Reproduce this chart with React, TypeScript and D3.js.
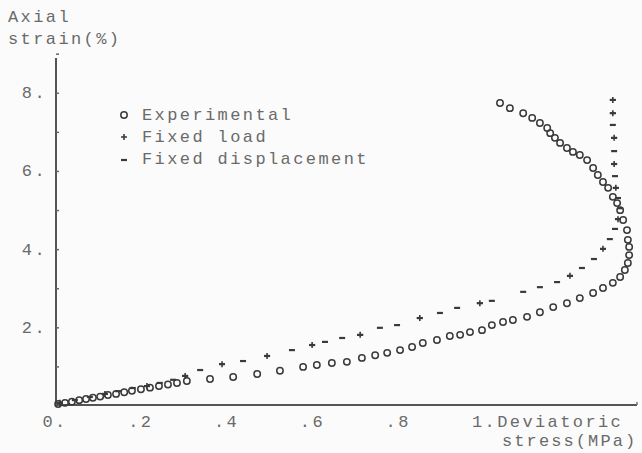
import React from "react";
import * as d3 from "d3";

// Experimental (deviatoric stress MPa, axial strain %)
const expStress = [0.005, 0.021, 0.037, 0.054, 0.07, 0.086, 0.103, 0.121, 0.14, 0.159, 0.177, 0.198, 0.219, 0.24, 0.261, 0.282, 0.305, 0.359, 0.413, 0.469, 0.522, 0.576, 0.608, 0.643, 0.678, 0.713, 0.744, 0.772, 0.802, 0.83, 0.855, 0.888, 0.918, 0.942, 0.965, 0.993, 1.016, 1.042, 1.065, 1.098, 1.128, 1.159, 1.191, 1.221, 1.252, 1.275, 1.298, 1.315, 1.326, 1.333, 1.336, 1.336, 1.333, 1.331, 1.322, 1.315, 1.308, 1.298, 1.287, 1.275, 1.263, 1.252, 1.238, 1.221, 1.205, 1.191, 1.175, 1.163, 1.152, 1.145, 1.128, 1.11, 1.089, 1.058, 1.035];
const expStrain = [0.05, 0.08, 0.11, 0.15, 0.18, 0.21, 0.24, 0.28, 0.31, 0.35, 0.39, 0.43, 0.47, 0.51, 0.55, 0.59, 0.64, 0.69, 0.74, 0.82, 0.9, 1.0, 1.05, 1.1, 1.13, 1.23, 1.3, 1.36, 1.43, 1.51, 1.61, 1.69, 1.79, 1.82, 1.89, 1.94, 2.07, 2.15, 2.2, 2.28, 2.4, 2.53, 2.63, 2.76, 2.89, 3.02, 3.15, 3.3, 3.48, 3.66, 3.86, 4.07, 4.25, 4.5, 4.76, 5.01, 5.19, 5.35, 5.58, 5.73, 5.91, 6.09, 6.29, 6.42, 6.5, 6.6, 6.73, 6.86, 6.98, 7.11, 7.24, 7.37, 7.49, 7.62, 7.75];

// Fixed displacement
const dispStress = [0.009, 0.044, 0.079, 0.114, 0.145, 0.179, 0.212, 0.242, 0.273, 0.301, 0.336, 0.387, 0.436, 0.492, 0.55, 0.597, 0.627, 0.667, 0.709, 0.755, 0.795, 0.848, 0.895, 0.935, 0.988, 1.016, 1.089, 1.128, 1.168, 1.198, 1.226, 1.254, 1.275, 1.291, 1.303, 1.31, 1.315, 1.31, 1.305, 1.303, 1.301, 1.301, 1.301, 1.298, 1.298, 1.298];
const dispStrain = [0.08, 0.15, 0.23, 0.31, 0.38, 0.46, 0.51, 0.59, 0.67, 0.77, 0.92, 1.07, 1.15, 1.28, 1.43, 1.56, 1.64, 1.74, 1.82, 2.0, 2.07, 2.25, 2.38, 2.51, 2.63, 2.69, 2.92, 3.04, 3.17, 3.33, 3.53, 3.76, 4.02, 4.27, 4.53, 4.78, 5.06, 5.32, 5.58, 5.88, 6.19, 6.52, 6.86, 7.19, 7.49, 7.83];

// Fixed load
const loadStress = [0.009, 0.114, 0.212, 0.301, 0.387, 0.492, 0.597, 0.709, 0.848, 0.988, 1.198, 1.275, 1.31, 1.305, 1.301, 1.301, 1.298, 1.298];
const loadStrain = [0.08, 0.31, 0.51, 0.77, 1.07, 1.28, 1.56, 1.82, 2.25, 2.63, 3.33, 4.02, 4.78, 5.58, 6.19, 6.86, 7.49, 7.83];

const xTicks = [0, 0.2, 0.4, 0.6, 0.8];
const xTickLabels = ["0.", ".2", ".4", ".6", ".8"];
const xLastLabel = "1.Deviatoric";
const xTitle2 = "stress(MPa)";
const yTicks = [2, 4, 6, 8];
const yTickLabels = ["2.", "4.", "6.", "8."];
const yMinorTicks = [1, 2, 3, 4, 5, 6, 7, 8, 9];
const legendLabels = ["Experimental", "Fixed load", "Fixed displacement"];

const W = 642;
const H = 453;
const ink = "#3a3a3a";
const textCol = "#6a6a6a";
const font = "'Liberation Mono', 'DejaVu Sans Mono', monospace";

const x = d3.scaleLinear().domain([0, 1.35]).range([56, 635.15]);
const y = d3.scaleLinear().domain([0, 8.8]).range([406, 62]);

const Circle = ({ cx, cy }: { cx: number; cy: number }) => (
  <circle cx={cx} cy={cy} r={3.2} fill="none" stroke={ink} strokeWidth={1.5} />
);
const Plus = ({ cx, cy }: { cx: number; cy: number }) => (
  <path d={`M${cx - 3},${cy}H${cx + 3}M${cx},${cy - 3}V${cy + 3}`} stroke={ink} strokeWidth={1.6} />
);
const Dash = ({ cx, cy }: { cx: number; cy: number }) => (
  <path d={`M${cx - 3},${cy}H${cx + 3}`} stroke={ink} strokeWidth={2.2} />
);

export default function App() {
  const txt = {
    fontFamily: font,
    fontSize: 17,
    letterSpacing: 2.4,
    fill: textCol,
  } as React.CSSProperties;
  return (
    <svg
      width={W}
      height={H}
      style={{ position: "absolute", left: 0, top: 0, background: "#fbfbfb" }}
    >
      {/* axis titles */}
      <text x={8} y={22} style={txt}>Axial</text>
      <text x={8} y={44} style={txt}>strain(%)</text>
      <text x={472} y={427} style={txt}>{xLastLabel}</text>
      <text x={502} y={446} style={{ ...txt, letterSpacing: 2.1 }}>{xTitle2}</text>

      {/* axes */}
      <line x1={x(0)} x2={x(0)} y1={58} y2={y(0)} stroke="#555" strokeWidth={2} />
      <line x1={x(0)} x2={637} y1={y(0) - 1} y2={y(0) - 1} stroke="#555" strokeWidth={2} />
      <line x1={637} x2={637} y1={y(0) - 4} y2={y(0) - 1} stroke="#777" strokeWidth={1.5} />

      {yMinorTicks.map((t) => (
        <line key={"ym" + t} x1={x(0)} x2={x(0) + 3} y1={y(t)} y2={y(t)} stroke="#666" strokeWidth={1.5} />
      ))}
      {yTicks.map((t, i) => (
        <text key={"yl" + t} x={47} y={y(t) + 5} textAnchor="end" style={txt}>
          {yTickLabels[i]}
        </text>
      ))}
      {xTicks.map((t, i) => (
        <text key={"xl" + t} x={x(t) - 1} y={427} textAnchor="middle" style={txt}>
          {xTickLabels[i]}
        </text>
      ))}

      {/* series */}
      {expStress.map((s, i) => (
        <Circle key={"e" + i} cx={x(s)} cy={y(expStrain[i])} />
      ))}
      {dispStress.map((s, i) => (
        <Dash key={"d" + i} cx={x(s)} cy={y(dispStrain[i])} />
      ))}
      {loadStress.map((s, i) => (
        <Plus key={"l" + i} cx={x(s)} cy={y(loadStrain[i])} />
      ))}

      {/* legend */}
      <Circle cx={124} cy={115} />
      <text x={142} y={120} style={txt}>{legendLabels[0]}</text>
      <Plus cx={124} cy={137} />
      <text x={142} y={142} style={txt}>{legendLabels[1]}</text>
      <Dash cx={124} cy={160} />
      <text x={142} y={164} style={txt}>{legendLabels[2]}</text>
    </svg>
  );
}
